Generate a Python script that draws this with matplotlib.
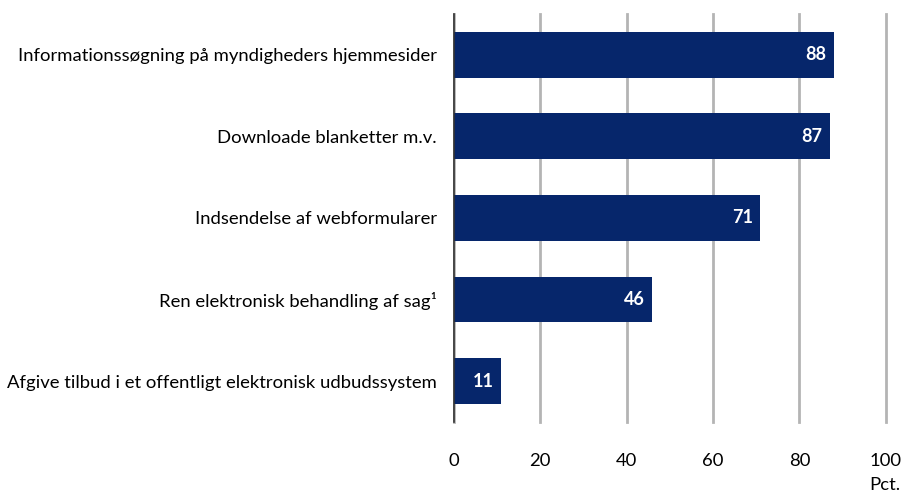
import matplotlib.pyplot as plt

categories = [
    "Informationssøgning på myndigheders hjemmesider",
    "Downloade blanketter m.v.",
    "Indsendelse af webformularer",
    "Ren elektronisk behandling af sag¹",
    "Afgive tilbud i et offentligt elektronisk udbudssystem",
]
values = [88, 87, 71, 46, 11]
ticks = [0, 20, 40, 60, 80, 100]

plt.rcParams['font.family'] = ['Lato', 'DejaVu Sans']

fig = plt.figure(figsize=(9.02, 4.95), dpi=100)
ax = fig.add_axes([0.503, 0.1475, 0.479, 0.8245])

pos = list(range(len(categories)))[::-1]
ax.barh(pos, values, height=0.56, color='#06266b', zorder=3)

for p, v in zip(pos, values):
    ax.text(v - 1.8, p, str(v), ha='right', va='center', color='white',
            fontsize=13, fontweight='bold', zorder=4)

ax.set_xlim(0, 100)
ax.set_ylim(-0.5, 4.5)
ax.set_xticks(ticks)
ax.set_yticks(pos)
ax.set_yticklabels(categories)
ax.tick_params(axis='both', length=0, labelsize=13.3)
ax.tick_params(axis='x', pad=22)
ax.tick_params(axis='y', pad=12)
ax.grid(axis='x', color='#b4b4b4', linewidth=2, zorder=1)
for gl in ax.get_xgridlines():
    gl.set_clip_on(False)

for s in ['top', 'right', 'bottom']:
    ax.spines[s].set_visible(False)
ax.spines['left'].set_color('#333333')
ax.spines['left'].set_linewidth(1.2)
ax.spines['left'].set_zorder(5)

fig.text(0.998, 0.005, "Pct.", ha='right', va='bottom', fontsize=13.3)

fig.savefig('out.png', dpi=100)
